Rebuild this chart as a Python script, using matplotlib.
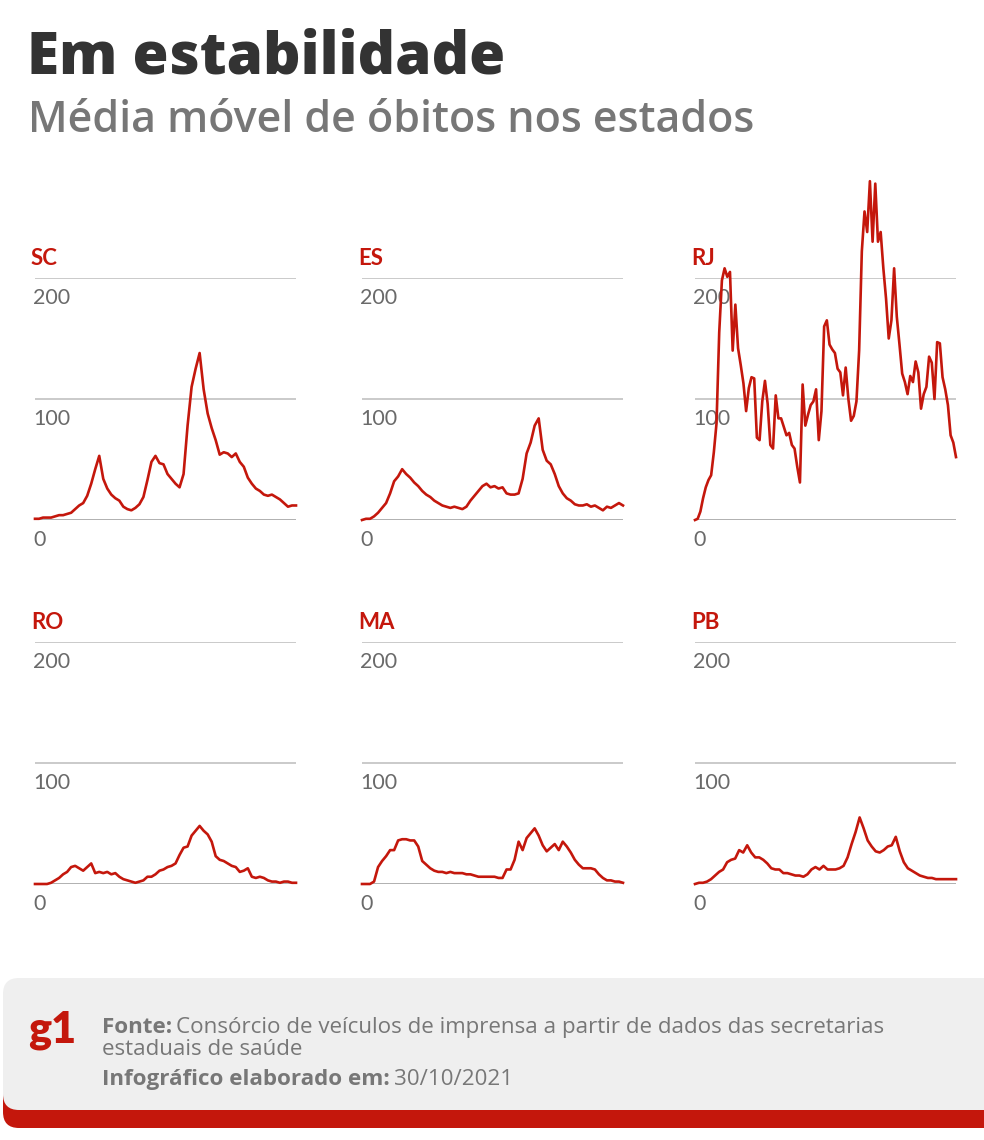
import numpy as np
import pandas as pd
import matplotlib
matplotlib.use("Agg")
import matplotlib.pyplot as plt
from matplotlib.patches import FancyBboxPatch

# media movel de obitos, leitura aproximada do grafico
states = ["SC", "ES", "RJ", "RO", "MA", "PB"]

sc = [1, 1, 2, 2, 2, 3, 4, 4, 5, 6, 9, 12, 14, 20, 30, 42, 53, 34, 26, 21,
      18, 16, 11, 9, 8, 10, 13, 19, 33, 48, 53, 47, 46, 38, 34, 30, 27, 38, 78, 110,
      125, 138, 108, 88, 76, 66, 54, 56, 55, 52, 55, 48, 44, 35, 30, 26, 24, 21, 20, 21,
      19, 17, 14, 11, 12, 12]

es = [0, 1, 1, 3, 6, 10, 14, 22, 32, 36, 42, 38, 35, 31, 28, 24, 21, 19, 16, 14,
      12, 11, 10, 11, 10, 9, 11, 16, 20, 24, 28, 30, 27, 28, 26, 27, 22, 21, 21, 22,
      34, 55, 64, 78, 84, 58, 49, 46, 38, 28, 22, 18, 16, 13, 12, 12, 13, 11, 12, 10,
      8, 11, 10, 12, 14, 12]

rj = [0, 1, 7, 18, 27, 33, 37, 56, 80, 155, 198, 208, 201, 205, 140, 178, 142, 128, 113, 90,
      109, 118, 117, 68, 66, 98, 115, 96, 62, 59, 103, 84, 84, 77, 70, 72, 62, 59, 44, 31,
      112, 78, 87, 95, 98, 108, 66, 90, 160,
      165, 145, 141, 138, 125, 122, 103, 126, 100, 82, 86, 98, 140, 222, 255, 238, 280, 230, 278, 230,
      238, 208, 183, 150, 165, 208, 168, 145, 121, 114, 104, 119, 114, 131, 122, 92, 104, 110, 135, 130,
      100, 147, 146, 118, 108, 95, 70, 64, 52]

ro = [0, 0, 0, 0, 1, 3, 5, 8, 10, 14, 15, 13, 11, 14, 17, 9, 10, 9, 10, 8,
      9, 6, 4, 3, 2, 1, 2, 3, 6, 6, 8, 11, 12, 14, 15, 17, 24, 30, 31, 40,
      44, 48, 44, 41, 35, 23, 20, 19, 17, 15, 14, 10, 11, 13, 6, 5, 6, 5, 3, 2,
      2, 1, 2, 2, 1, 1]

ma = [0, 0, 0, 2, 14, 19, 23, 28, 28, 36, 37, 37, 36, 36, 31, 19, 16, 13, 11, 10,
      10, 9, 10, 9, 9, 9, 8, 8, 7, 6, 6, 6, 6, 6, 5, 5, 12, 12, 20, 35,
      28, 38, 42, 46, 40, 32, 27, 30, 33, 28, 35, 31, 26, 20, 16, 13, 13, 13, 12, 8,
      5, 3, 3, 2, 2, 1]

pb = [0, 1, 1, 2, 4, 7, 10, 12, 18, 20, 21, 28, 26, 32, 26, 22, 22, 20, 17, 13,
      12, 12, 9, 9, 8, 7, 7, 6, 8, 12, 14, 12, 15, 12, 12, 12, 13, 15, 22, 33,
      43, 55, 46, 36, 31, 27, 26, 28, 31, 32, 39, 27, 18, 13, 11, 9, 7, 6, 5, 5,
      4, 4, 4, 4, 4, 4]

series = [sc, es, rj, ro, ma, pb]
start, end = "2020-03-17", "2021-10-29"
y_ticks = [0, 100, 200]

RED = "#c4170c"
plt.rcParams["font.family"] = ["Lato", "DejaVu Sans"]
HEAD = ["Open Sans", "DejaVu Sans"]

W, H = 984, 1140
fig = plt.figure(figsize=(W / 100, H / 100), dpi=100)
bg = fig.add_axes([0, 0, 1, 1])
bg.set_xlim(0, W)
bg.set_ylim(H, 0)
bg.axis("off")

bg.text(27, 73, "Em estabilidade", fontsize=42, fontweight="heavy", color="#333333",
        family=HEAD)
bg.text(28, 132, "Média móvel de óbitos nos estados", fontsize=31, fontweight="semibold",
        color="#777777", family=HEAD)

lefts = [35, 362, 695]
bottoms = [520, 884]
pw, ph = 261, 242

for k, (name, vals) in enumerate(zip(states, series)):
    r, c = divmod(k, 3)
    x0, y0 = lefts[c], bottoms[r]
    ax = fig.add_axes([x0 / W, 1 - y0 / H, pw / W, ph / H])
    ax.patch.set_alpha(0)
    dates = pd.date_range(start, end, periods=len(vals))
    for t in y_ticks:
        ax.axhline(t, color="#999999" if t == 0 else "#c6c6c6",
                   lw=1.8 if t == 0 else 1.3, zorder=1)
    ax.plot(dates, vals, color=RED, lw=1.9, clip_on=False, zorder=3,
            solid_joinstyle="round")
    ax.set_xlim(dates[0], dates[-1])
    ax.set_ylim(0, 200)
    ax.axis("off")

    bg.text(x0 - 4, y0 - ph - 13, name, fontsize=16, fontweight="bold", color=RED)
    for t in y_ticks:
        ypx = y0 - t / 200 * ph
        bg.text(x0 - 2, ypx + 26, str(t), fontsize=15.5, color="#6a6a6a")

# rodape
bg.add_patch(FancyBboxPatch((3, 992), 1020, 136, boxstyle="round,pad=0,rounding_size=16",
                            fc=RED, ec="none", zorder=1))
bg.add_patch(FancyBboxPatch((3, 978), 1020, 132, boxstyle="round,pad=0,rounding_size=16",
                            fc="#efefef", ec="none", zorder=2))

bg.text(28, 1043, "g1", fontsize=31, fontweight="heavy", color=RED, zorder=3)

renderer = fig.canvas.get_renderer()
GRAY = "#777777"
fs = 16.1
t1 = bg.text(102, 1033, "Fonte:", fontsize=fs, fontweight="bold", color=GRAY, zorder=3,
             family=HEAD)
w1 = t1.get_window_extent(renderer=renderer).width
bg.text(102 + w1 + 4, 1033, "Consórcio de veículos de imprensa a partir de dados das secretarias",
        fontsize=fs, color=GRAY, zorder=3, family=HEAD)
bg.text(102, 1055, "estaduais de saúde", fontsize=fs, color=GRAY, zorder=3, family=HEAD)
t3 = bg.text(102, 1085, "Infográfico elaborado em:", fontsize=fs, fontweight="bold",
             color=GRAY, zorder=3, family=HEAD)
w3 = t3.get_window_extent(renderer=renderer).width
bg.text(102 + w3 + 4, 1085, "30/10/2021", fontsize=fs, color=GRAY, zorder=3, family=HEAD)

fig.savefig("out.png", dpi=100)
